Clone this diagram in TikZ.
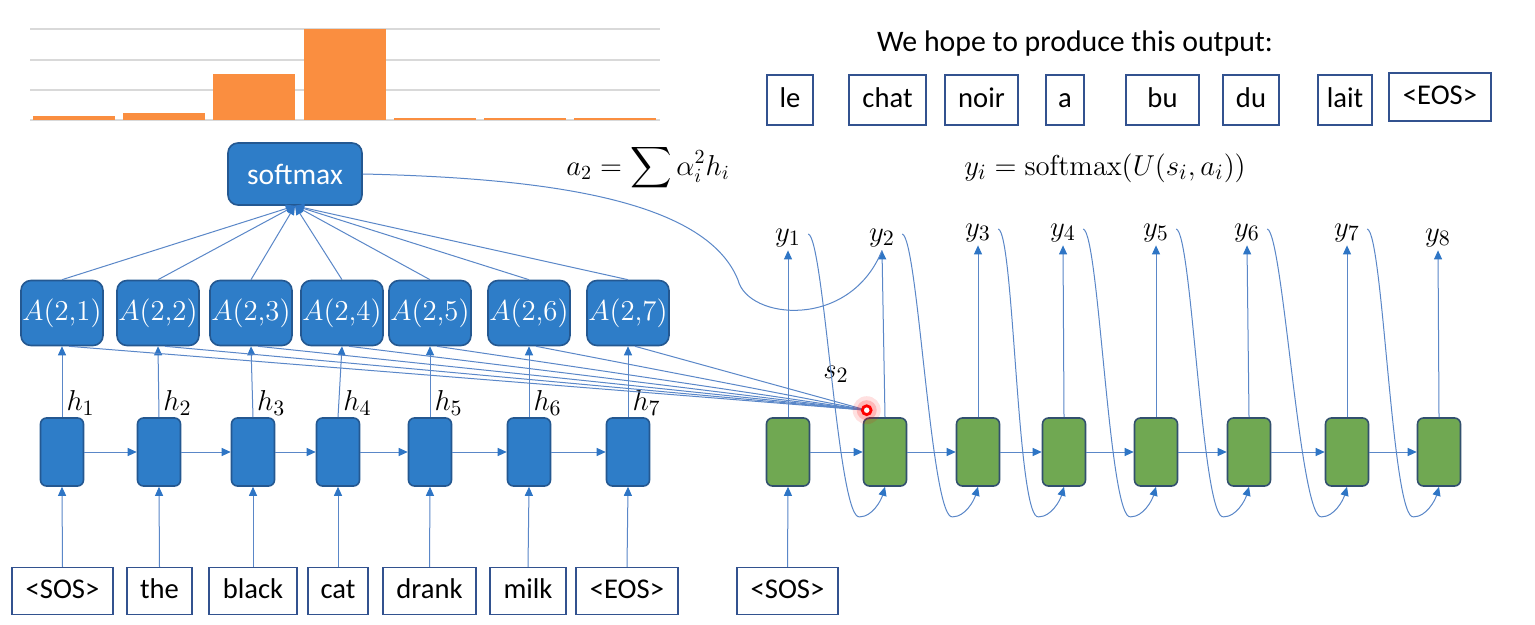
\documentclass[tikz,border=0pt]{standalone}
\usepackage{amsmath}
\usepackage[no-math]{fontspec}
\setmainfont{Carlito}
\usetikzlibrary{arrows.meta,calc}
\definecolor{blueF}{RGB}{46,125,200}
\definecolor{blueD}{RGB}{36,88,145}
\definecolor{greenF}{RGB}{112,168,82}
\definecolor{greenD}{RGB}{50,80,110}
\definecolor{lineC}{RGB}{90,135,200}
\definecolor{arrC}{RGB}{46,117,197}
\definecolor{boxD}{RGB}{50,82,143}
\definecolor{gridC}{RGB}{217,217,217}
\definecolor{barC}{RGB}{250,142,64}
\begin{document}
\begin{tikzpicture}[x=0.5pt,y=-0.5pt,
  conn/.style={draw=lineC,line width=0.5pt},
  arr/.style={conn,-{Triangle[length=4.5pt,width=4pt,color=arrC]}},
  cellb/.style={rectangle,rounded corners=3pt,fill=blueF,draw=blueD,line width=0.8pt,minimum width=21.5pt,minimum height=34pt,inner sep=0pt},
  cellg/.style={cellb,fill=greenF,draw=greenD},
  attn/.style={rectangle,rounded corners=5pt,fill=blueF,draw=blueD,line width=0.8pt,minimum width=41pt,minimum height=32.5pt,inner sep=0pt,text=white,font=\fontsize{15.5pt}{18pt}\selectfont},
  softbox/.style={attn,minimum width=67pt,minimum height=31pt,font=\fontsize{14.8pt}{17pt}\selectfont},
  wbox/.style={rectangle,draw=boxD,fill=white,line width=0.6pt,minimum height=23.5pt,inner sep=0pt,text height=10.5pt,text depth=3pt,font=\fontsize{14.3pt}{17pt}\selectfont},
  lab/.style={inner sep=1.5pt,font=\fontsize{15.5pt}{18pt}\selectfont},
  eqn/.style={inner sep=0pt,font=\fontsize{14.5pt}{17pt}\selectfont}
]
\fill[white] (0,0) rectangle (1535,625);
% bar chart
\foreach \y in {29,60,90,120} \draw[gridC,line width=0.8pt] (30,\y) -- (660,\y);
\foreach \x/\t in {33/116,123/113,213/74,304/29,394/118,484/118,574/118}
  \fill[barC] (\x,\t) rectangle (\x+82,120);

% softmax and attention nodes
\node[softbox] (sm) at (295,174) {softmax};
\foreach \i/\x in {1/62,2/158,3/251,4/342,5/430,6/529,7/628}
  \node[attn] (A\i) at (\x,313) {$A(2{,}\i)$};

% encoder
\foreach \i/\x in {1/62,2/159,3/253,4/338,5/430,6/529,7/628}
  \node[cellb] (e\i) at (\x,452) {};
\foreach \i/\x/\w/\t in {1/62.5/50.5/<SOS>,2/159.5/32.5/the,3/253/44/black,4/338/30/cat,5/429.5/46.5/drank,6/528/38/milk,7/627/51/<EOS>}
  \node[wbox,minimum width=\w pt] (w\i) at (\x,591) {\t};

% decoder
\foreach \i/\x in {1/788,2/885,3/978,4/1064,5/1156,6/1249,7/1347,8/1439}
  \node[cellg] (d\i) at (\x,452) {};
\foreach \i/\x/\y in {1/788/238,2/882/238,3/978/233,4/1063/233,5/1156/233,6/1247/233,7/1347/233,8/1438/238}
  \node[lab] (Y\i) at (\x,\y) {$y_{\i}$};
\node[wbox,minimum width=50.5pt] (ws) at (787.5,591) {<SOS>};

% top output
\node[inner sep=0pt,font=\fontsize{14.9pt}{18pt}\selectfont] (hdr) at (1075,44) {We hope to produce this output:};
\foreach \n/\x/\w/\t in {o1/790/23/le,o2/887.5/38.5/chat,o3/981.5/36.5/noir,o4/1065/19/a,o5/1162.5/36.5/bu,o6/1251/28/du,o7/1345/27/lait}
  \node[wbox,minimum width=\w pt,minimum height=25pt] (\n) at (\x,100) {\t};
\node[wbox,minimum width=51pt,minimum height=24pt] (o8) at (1440,97) {<EOS>};

% equations
\node[eqn] (eqa) at (648,168) {$a_2=\displaystyle\sum\nolimits\alpha_i^2h_i$};
\node[eqn,font=\fontsize{15pt}{18pt}\selectfont] (eqy) at (1105,168) {$y_i=\mathrm{softmax}(U(s_i,a_i))$};
\node[lab] (s2) at (836,374) {$s_2$};

% encoder connectors
\foreach \i in {1,...,7} {
  \draw[arr] (w\i.north) -- (e\i.south);
  \draw[arr] (e\i.north) -- node[pos=0.2,right,lab,inner sep=2pt]{$h_{\i}$} (A\i.south);
  \draw[arr] (A\i.north) -- (sm.south);
}
\foreach \i/\j in {1/2,2/3,3/4,4/5,5/6,6/7}
  \draw[arr] (e\i.east) -- (e\j.west);

% decoder connectors
\draw[arr] (ws.north) -- (d1.south);
\foreach \i in {1,...,8}
  \draw[arr] (d\i.north) -- (Y\i.south);
\foreach \i/\j in {1/2,2/3,3/4,4/5,5/6,6/7,7/8} {
  \draw[arr] (d\i.east) -- (d\j.west);
  \coordinate (fb\i) at ($(d\j.south)+(-25,30)$);
  \draw[arr] ($(Y\i.east)+(4,-4)$) .. controls +(16,4) and +(-22,8) .. (fb\i) .. controls +(12,0) and +(-4,14) .. (d\j.south);
}

% softmax to y2
\coordinate (sk) at (738,280);
\draw[conn] (sm.east) .. controls (540,178) and (705,198) .. (sk) .. controls (748,320) and (850,330) .. (Y2.south);

% attention lines from s2
\coordinate (s2pt) at ($(d2.north west)+(4,-7)$);
\foreach \i in {1,...,7}
  \draw[conn] (s2pt) -- ($(A\i.south)+(7,0)$);

% laser dot
\fill[red,opacity=0.12] (s2pt) circle (7pt);
\fill[red,opacity=0.18] (s2pt) circle (5pt);
\draw[red,line width=1.4pt,fill=white] (s2pt) circle (2.2pt);
\end{tikzpicture}
\end{document}
